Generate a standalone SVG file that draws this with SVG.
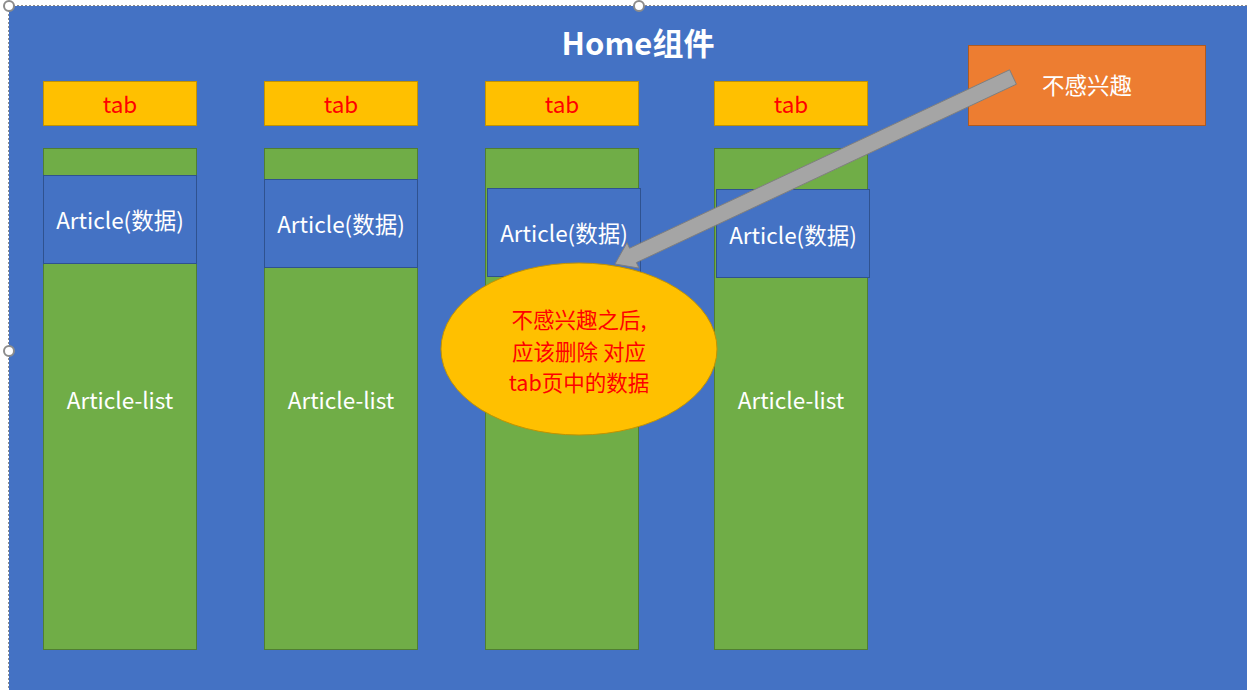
<svg xmlns="http://www.w3.org/2000/svg" width="1247" height="690" viewBox="0 0 1247 690">
<style>
.tab{fill:#FFC000;stroke:#C39300;stroke-width:1}
.col{fill:#70AD47;stroke:#507E32;stroke-width:1}
.art{fill:#4472C4;stroke:#2F528F;stroke-width:1}
.t{font-family:"Microsoft YaHei","Noto Sans CJK SC","Liberation Sans",sans-serif;text-anchor:middle;dominant-baseline:central}
.tt{fill:#FF0000;font-size:22.5px}
.wt{fill:#FFFFFF;font-size:22.5px}
.nt{fill:#FF0000;font-size:21.5px}
.handle{fill:#FFFFFF;stroke:#8C8C8C;stroke-width:2}
</style>
<rect x="0" y="0" width="1247" height="690" fill="#FFFFFF"/>
<g id="home">
<rect x="9" y="6" width="1238" height="684" fill="#4472C4"/>
<text class="t" x="638" y="41" fill="#FFFFFF" font-size="31" font-weight="bold">Home组件</text>
</g>
<g id="selection" fill="none" stroke="#8C8C8C" stroke-width="1" stroke-dasharray="2,2">
<line x1="9" y1="5.5" x2="1247" y2="5.5"/>
<line x1="8.5" y1="6" x2="8.5" y2="690"/>
</g>
<g id="col1">
<rect class="tab" x="43.5" y="81.5" width="153" height="44"/>
<text class="t tt" x="120" y="103">tab</text>
<rect class="col" x="43.5" y="148.5" width="153" height="501"/>
<rect class="art" x="43.5" y="175.5" width="153" height="88"/>
<text class="t wt" x="120" y="219">Article(数据)</text>
<text class="t wt" x="120" y="399">Article-list</text>
</g>
<g id="col2">
<rect class="tab" x="264.5" y="81.5" width="153" height="44"/>
<text class="t tt" x="341" y="103">tab</text>
<rect class="col" x="264.5" y="148.5" width="153" height="501"/>
<rect class="art" x="264.5" y="179.5" width="153" height="88"/>
<text class="t wt" x="341" y="223">Article(数据)</text>
<text class="t wt" x="341" y="399">Article-list</text>
</g>
<g id="col3">
<rect class="tab" x="485.5" y="81.5" width="153" height="44"/>
<text class="t tt" x="562" y="103">tab</text>
<rect class="col" x="485.5" y="148.5" width="153" height="501"/>
<rect class="art" x="487.5" y="188.5" width="153" height="88"/>
<text class="t wt" x="564" y="232">Article(数据)</text>
</g>
<g id="col4">
<rect class="tab" x="714.5" y="81.5" width="153" height="44"/>
<text class="t tt" x="791" y="103">tab</text>
<rect class="col" x="714.5" y="148.5" width="153" height="501"/>
<rect class="art" x="716.5" y="189.5" width="153" height="88"/>
<text class="t wt" x="793" y="234">Article(数据)</text>
<text class="t wt" x="791" y="399">Article-list</text>
</g>
<g id="notinterested">
<rect x="968.5" y="45.5" width="237" height="80" fill="#ED7D31" stroke="#AE5A21" stroke-width="1"/>
<text class="t wt" x="1087" y="84" font-size="23.5">不感兴趣</text>
</g>
<g id="connectors">
<polygon points="1016.4,84.2 1009.6,69.8 629.6,248.2 627,242.7 615,264 639,268.1 636.4,262.6" fill="#A5A5A5" stroke="#7F7F7F" stroke-width="1"/>
</g>
<g id="note">
<ellipse cx="579" cy="349" rx="138" ry="86" fill="#FFC000" stroke="#C39300" stroke-width="1"/>
<text class="t nt" x="579" y="318.5">不感兴趣之后,</text>
<text class="t nt" x="579" y="350">应该删除 对应</text>
<text class="t nt" x="579" y="381.5">tab页中的数据</text>
</g>
<g id="handles">
<circle class="handle" cx="9" cy="6" r="5"/>
<circle class="handle" cx="639" cy="6" r="5"/>
<circle class="handle" cx="9" cy="351" r="5"/>
</g>
</svg>
